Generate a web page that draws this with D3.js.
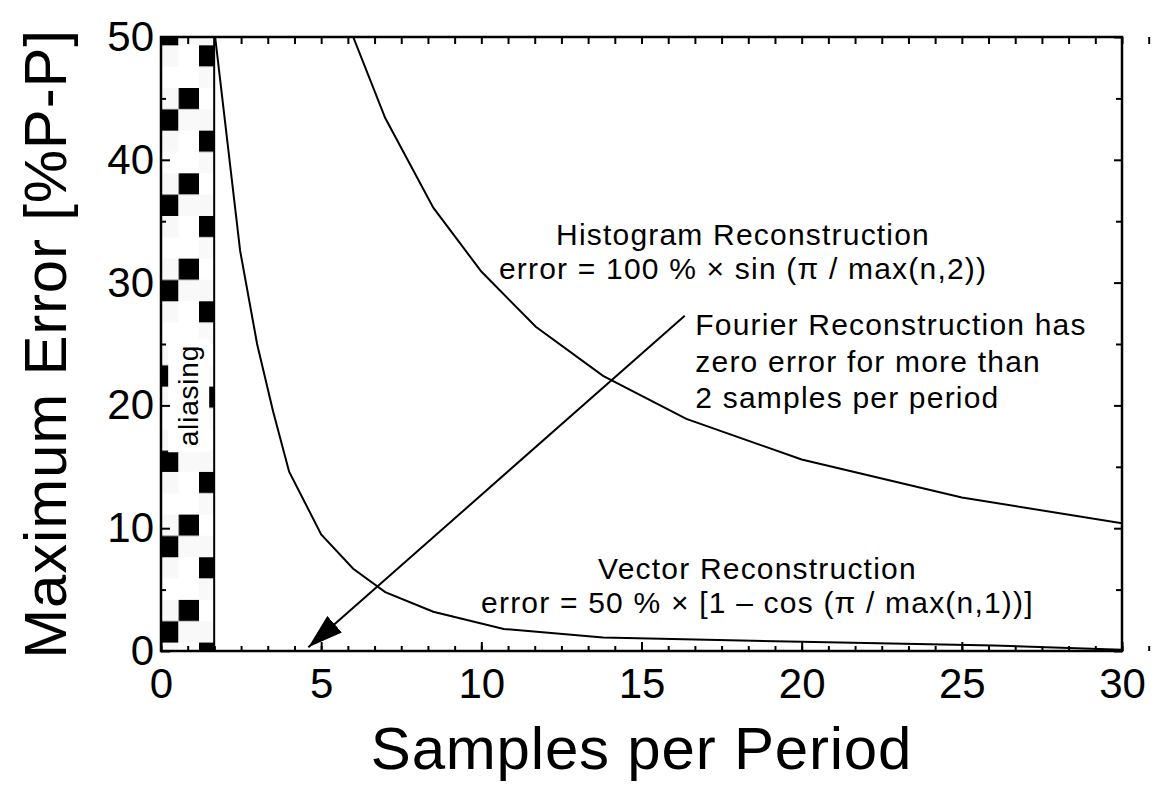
<!DOCTYPE html>
<html>
<head>
<meta charset="utf-8">
<script src="https://cdn.jsdelivr.net/npm/d3@7"></script>
<style>
  body { margin: 0; background: #fff; }
  text { font-family: "Liberation Sans", Arial, Helvetica, sans-serif; fill: #000; }
</style>
</head>
<body>
<svg id="chart"></svg>
<script>
// axis ticks
var xTicks = [0, 5, 10, 15, 20, 25, 30];
var yTicks = [0, 10, 20, 30, 40, 50];
var xMinor = d3.range(0, 31, 5 / 6);
var yMinor = [5, 15, 25, 35, 45];

// histogram reconstruction (samples per period, error %)
var histN   = [6, 7, 8.5, 10, 11.7, 13.8, 16.4, 20, 25, 30];
var histErr = [50, 43.4, 36.1, 30.9, 26.4, 22.4, 18.9, 15.6, 12.5, 10.4];

// vector reconstruction
var vecN   = [1.69, 2.47, 3, 3.5, 4, 5, 6, 7, 8.5, 10.7, 13.8, 20, 26, 30];
var vecErr = [50, 32.6, 25, 19.5, 14.6, 9.5, 6.7, 4.8, 3.2, 1.8, 1.1, 0.75, 0.45, 0.1];

var aliasLimit = 1.66;

// arrow: from text to the axis
var arrowFrom = [16.35, 27.3];
var arrowTo = [4.6, 0.3];

var svgWidth = 1154;
var svgHeight = 792;
var margin = { top: 37, right: 32, bottom: 141, left: 161 };
var width = svgWidth - margin.left - margin.right;
var height = svgHeight - margin.top - margin.bottom;

var svg = d3.select("#chart")
    .attr("width", svgWidth)
    .attr("height", svgHeight);

var defs = svg.append("defs");

// checkerboard-ish pattern for the aliasing band
var cw = 20.5, ch = 21.33;
var pat = defs.append("pattern")
    .attr("id", "alias")
    .attr("patternUnits", "userSpaceOnUse")
    .attr("x", margin.left)
    .attr("y", 51)
    .attr("width", cw * 3)
    .attr("height", ch * 4);
pat.append("rect").attr("width", cw * 3).attr("height", ch * 4).attr("fill", "#fff");
var cells = [
    [2, 0, "#000"], [1, 0, "#f8f8f8"],
    [1, 1, "#000"], [0, 1, "#f8f8f8"], [2, 1, "#f9f9f9"],
    [0, 2, "#000"], [1, 2, "#f8f8f8"],
    [0, 3, "#f9f9f9"]
];
cells.forEach(function (c) {
    pat.append("rect")
        .attr("x", c[0] * cw).attr("y", c[1] * ch)
        .attr("width", cw).attr("height", ch)
        .attr("fill", c[2]);
});

defs.append("clipPath").attr("id", "plotClip")
    .append("rect").attr("width", width).attr("height", height);

defs.append("marker")
    .attr("id", "head")
    .attr("viewBox", "0 0 10 10")
    .attr("refX", 10).attr("refY", 5)
    .attr("markerUnits", "userSpaceOnUse")
    .attr("markerWidth", 35).attr("markerHeight", 22)
    .attr("orient", "auto")
    .attr("preserveAspectRatio", "none")
    .append("path")
    .attr("d", "M0,0 L10,5 L0,10 z")
    .attr("fill", "#000");

var chartGroup = svg.append("g")
    .attr("transform", `translate(${margin.left}, ${margin.top})`);

var xScale = d3.scaleLinear().domain([0, 30]).range([0, width]);
var yScale = d3.scaleLinear().domain([0, 50]).range([height, 0]);

// aliasing band
chartGroup.append("rect")
    .attr("x", xScale(0))
    .attr("y", yScale(50))
    .attr("width", xScale(aliasLimit) - xScale(0))
    .attr("height", yScale(0) - yScale(50))
    .attr("fill", "url(#alias)");

var aliasLabel = chartGroup.append("g")
    .attr("transform", `translate(${xScale(aliasLimit) - 16}, ${yScale(20.8)}) rotate(-90)`);
var aliasBox = aliasLabel.append("rect").attr("fill", "#fff");
var aliasText = aliasLabel.append("text")
    .attr("text-anchor", "middle")
    .style("font-size", "28px")
    .style("letter-spacing", "0.8px")
    .text("aliasing");
var bb = aliasText.node().getBBox();
aliasBox.attr("x", bb.x - 6).attr("y", bb.y - 5)
    .attr("width", bb.width + 12).attr("height", bb.height + 10);

chartGroup.append("line")
    .attr("x1", xScale(aliasLimit)).attr("x2", xScale(aliasLimit))
    .attr("y1", yScale(0)).attr("y2", yScale(50))
    .attr("stroke", "#000").attr("stroke-width", 2);

// axes
function styleAxis(g) {
    g.select(".domain").remove();
    g.selectAll("line").attr("stroke", "#000").attr("stroke-width", 2);
}

chartGroup.append("g")
    .attr("transform", `translate(0, ${height})`)
    .call(d3.axisBottom(xScale).tickValues(xTicks).tickSize(-9).tickPadding(17))
    .call(styleAxis)
    .selectAll("text").style("font-size", "42px").attr("font-family", null);

chartGroup.append("g")
    .attr("transform", `translate(0, ${height})`)
    .call(d3.axisBottom(xScale).tickValues(xMinor).tickSize(-5).tickFormat(""))
    .call(styleAxis);

chartGroup.append("g")
    .call(d3.axisTop(xScale).tickValues(xMinor).tickSize(-7).tickFormat(""))
    .call(styleAxis);

chartGroup.append("g")
    .call(d3.axisLeft(yScale).tickValues(yTicks).tickSize(-9).tickPadding(7))
    .call(styleAxis)
    .selectAll("text").style("font-size", "42px").attr("font-family", null);

chartGroup.append("g")
    .call(d3.axisLeft(yScale).tickValues(yMinor).tickSize(-5).tickFormat(""))
    .call(styleAxis);

chartGroup.append("g")
    .attr("transform", `translate(${width}, 0)`)
    .call(d3.axisRight(yScale).tickValues(yTicks).tickSize(-8).tickFormat(""))
    .call(styleAxis);

chartGroup.append("g")
    .attr("transform", `translate(${width}, 0)`)
    .call(d3.axisRight(yScale).tickValues(yMinor).tickSize(-6).tickFormat(""))
    .call(styleAxis);

// frame
chartGroup.append("rect")
    .attr("width", width).attr("height", height)
    .attr("fill", "none").attr("stroke", "#000").attr("stroke-width", 2.5);

// curves
var line = d3.line()
    .x(d => xScale(d[0]))
    .y(d => yScale(d[1]));

var curves = chartGroup.append("g").attr("clip-path", "url(#plotClip)");

curves.append("path")
    .datum(d3.zip(histN, histErr))
    .attr("d", line)
    .attr("fill", "none").attr("stroke", "#000").attr("stroke-width", 2);

curves.append("path")
    .datum(d3.zip(vecN, vecErr))
    .attr("d", line)
    .attr("fill", "none").attr("stroke", "#000").attr("stroke-width", 2);

// arrow
chartGroup.append("line")
    .attr("x1", xScale(arrowFrom[0])).attr("y1", yScale(arrowFrom[1]))
    .attr("x2", xScale(arrowTo[0])).attr("y2", yScale(arrowTo[1]))
    .attr("stroke", "#000").attr("stroke-width", 2)
    .attr("marker-end", "url(#head)");

// annotations
function block(lines, x, y, anchor, lead) {
    var t = chartGroup.append("text")
        .attr("x", xScale(x)).attr("y", yScale(y))
        .attr("text-anchor", anchor)
        .style("font-size", "30px")
        .style("letter-spacing", "1.2px");
    lines.forEach(function (s, i) {
        t.append("tspan").attr("x", xScale(x)).attr("dy", i === 0 ? 0 : lead).text(s);
    });
}

block(["Histogram Reconstruction", "error = 100 % \u00d7 sin (\u03c0 / max(n,2))"], 18.17, 33.06, "middle", 33.5);
block(["Fourier Reconstruction has", "zero error for more than", "2 samples per period"], 16.68, 25.73, "start", 36.7);
block(["Vector Reconstruction", "error = 50 % \u00d7 [1 \u2013 cos (\u03c0 / max(n,1))]"], 18.62, 5.86, "middle", 34);

// axis titles
chartGroup.append("text")
    .attr("transform", "rotate(-90)")
    .attr("x", -height / 2)
    .attr("y", -margin.left + 66)
    .attr("text-anchor", "middle")
    .style("font-size", "60px")
    .style("letter-spacing", "0.8px")
    .text("Maximum Error [%P-P]");

chartGroup.append("text")
    .attr("x", width / 2)
    .attr("y", height + 118)
    .attr("text-anchor", "middle")
    .style("font-size", "60px")
    .style("letter-spacing", "0.8px")
    .text("Samples per Period");
</script>
</body>
</html>
